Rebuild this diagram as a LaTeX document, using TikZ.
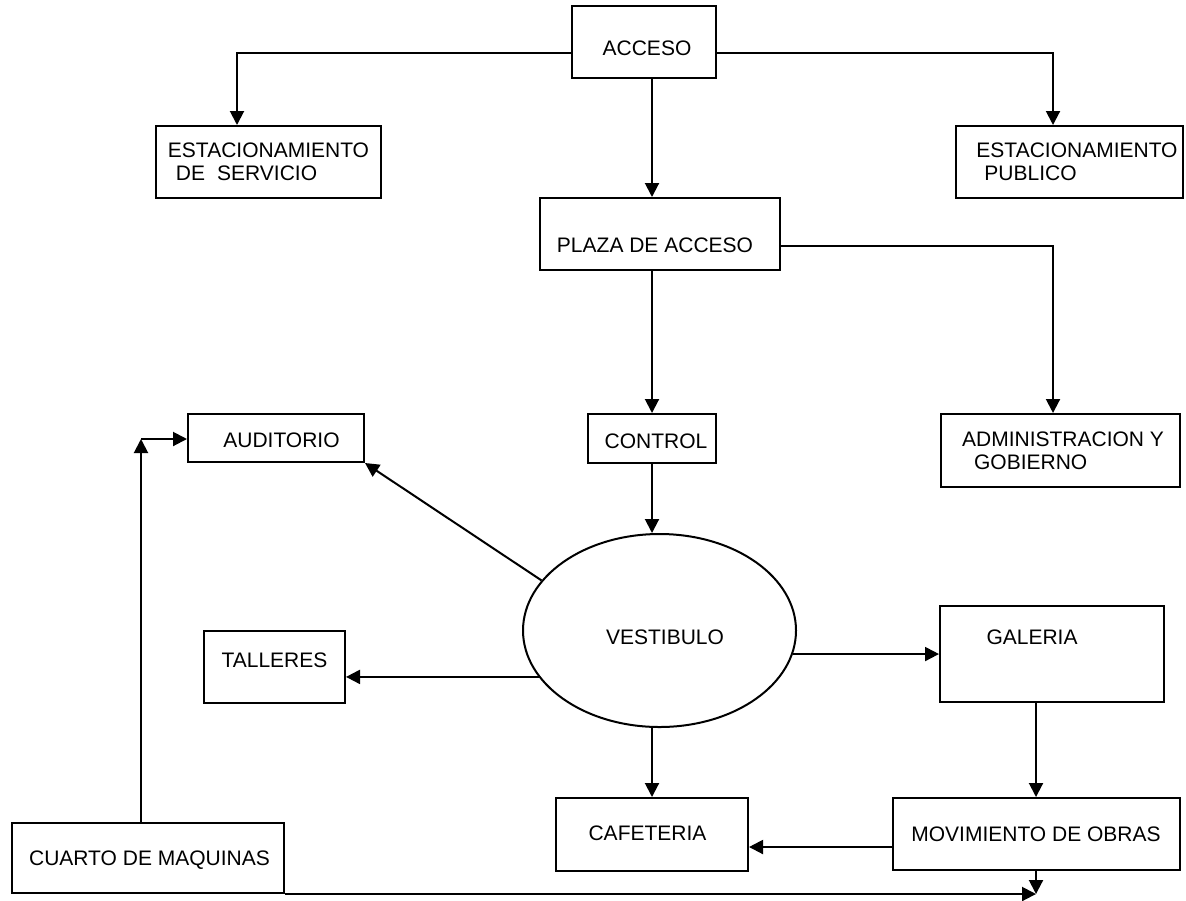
\documentclass[tikz,border=0pt]{standalone}
\usepackage{fontspec}
\setmainfont{Liberation Sans}
\usetikzlibrary{arrows.meta,shapes.geometric}
\newcommand{\offs}[3]{\raisebox{#2}[\height][\depth]{\hspace*{#1}#3\hspace*{-#1}}}
\tikzset{
  box/.style={draw, line width=1pt, rectangle, inner sep=0pt, align=left,
    font=\fontsize{10.5pt}{11.5pt}\selectfont},
  oval/.style={draw, line width=1pt, ellipse, inner sep=0pt,
    font=\fontsize{10.5pt}{11.5pt}\selectfont},
  arr/.style={line width=1pt, -{Triangle[length=7pt,width=7pt]}}
}
\begin{document}
\begin{tikzpicture}[x=0.5pt,y=-0.5pt]
\useasboundingbox (0,0) rectangle (1186,900);
% boxes
\node[box, minimum width=72pt, minimum height=36pt] (acceso) at (644,42) {\offs{1.5pt}{-3pt}{ACCESO}};
\node[box, minimum width=112.5pt, minimum height=36pt] (estserv) at (268.5,162)
  {ESTACIONAMIENTO\\\hspace*{4pt}DE\hspace{6pt}SERVICIO};
\node[box, minimum width=113.5pt, minimum height=36pt] (estpub) at (1069.5,162)
  {\hspace*{7.5pt}ESTACIONAMIENTO\\\hspace*{11.5pt}PUBLICO};
\node[box, minimum width=120pt, minimum height=36pt] (plaza) at (660,234) {\offs{-2.5pt}{-5.5pt}{PLAZA DE ACCESO}};
\node[box, minimum width=88pt, minimum height=24pt] (audit) at (276,438) {\offs{2.75pt}{-1pt}{AUDITORIO}};
\node[box, minimum width=64pt, minimum height=24.5pt] (control) at (652,438.5) {\offs{2pt}{-1.25pt}{CONTROL}};
\node[box, minimum width=119.5pt, minimum height=36.5pt] (admin) at (1060.5,450.5)
  {\hspace*{2.5pt}ADMINISTRACION Y\\\hspace*{8.5pt}GOBIERNO};
\node[oval, minimum width=136.5pt, minimum height=96.5pt] (vest) at (659.5,630.5) {\offs{2.75pt}{-3.25pt}{VESTIBULO}};
\node[box, minimum width=70.5pt, minimum height=36pt] (tall) at (274.5,667) {\offs{0pt}{3.5pt}{TALLERES}};
\node[box, minimum width=112pt, minimum height=48pt] (gal) at (1052,654) {\offs{-10pt}{8.5pt}{GALERIA}};
\node[box, minimum width=96pt, minimum height=36.5pt] (cafe) at (652,834.5) {\offs{-2.25pt}{0.75pt}{CAFETERIA}};
\node[box, minimum width=143.5pt, minimum height=36pt] (movim) at (1036,834) {MOVIMIENTO DE OBRAS};
\node[box, minimum width=136pt, minimum height=35pt] (cuarto) at (148,858) {\offs{0.75pt}{-1pt}{CUARTO DE MAQUINAS}};
% free ends
\coordinate (ca) at (141,439);
\coordinate (jn) at (movim.south |- cuarto.south);
% connectors
\draw[arr] ([yshift=-5.5pt]acceso.west) -| ([xshift=-15.75pt]estserv.north);
\draw[arr] ([yshift=-5.5pt]acceso.east) -| ([xshift=-8.25pt]estpub.north);
\draw[arr] ([xshift=4pt]acceso.south) -- ([xshift=4pt]acceso.south |- plaza.north);
\draw[arr] ([yshift=-6pt]plaza.east) -| ([xshift=-3.75pt]admin.north);
\draw[arr] ([xshift=-4pt]plaza.south) -- ([xshift=-4pt]plaza.south |- control.north);
\draw[arr] (control.south) -- (control.south |- vest.north);
\draw[arr] (vest.157.7) -- (audit.south east);
\draw[arr] (vest.201.8) -- (vest.201.8 -| tall.east);
\draw[arr] (vest.-10) -- (vest.-10 -| gal.west);
\draw[arr] (cafe.north |- vest.south) -- (cafe.north);
\draw[arr] ([xshift=-8pt]gal.south) -- ([xshift=-8pt]gal.south |- movim.north);
\draw[arr] ([yshift=-6.5pt]movim.west) -- ([yshift=-6.5pt]movim.west -| cafe.east);
\draw[arr] (movim.south) -- (jn);
\draw[arr] (cuarto.south east) -- (jn);
\draw[arr] ([xshift=-3.5pt]cuarto.north) -- (ca);
\draw[arr] (ca) -- (ca -| audit.west);
\end{tikzpicture}
\end{document}
